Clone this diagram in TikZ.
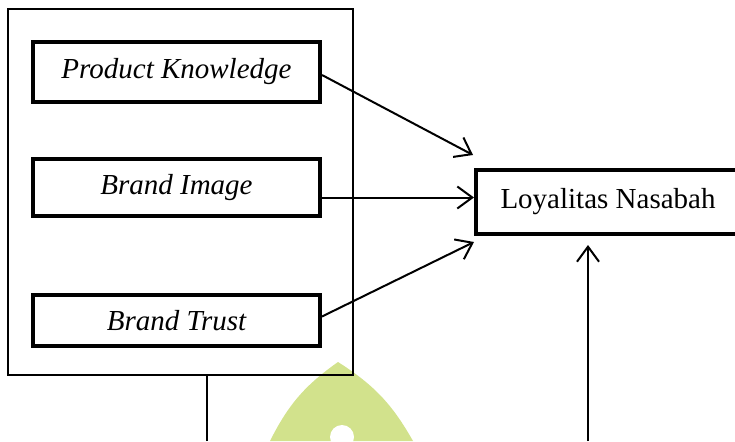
\documentclass[tikz,border=0pt]{standalone}
\usepackage{fontspec}
\setmainfont{Liberation Serif}
\usetikzlibrary{arrows.meta,calc}
\definecolor{wmgreen}{RGB}{210,226,140}
\begin{document}
\begin{tikzpicture}[x=1pt,y=-1pt,
  varbox/.style={draw,line width=4pt,minimum width=287pt,inner sep=0pt,font=\fontsize{29}{32}\selectfont\itshape},
  outbox/.style={draw,line width=4pt,inner sep=0pt,font=\fontsize{29}{32}\selectfont},
  frame/.style={draw,line width=1.2pt,inner sep=0pt},
  conn/.style={line width=2pt,-{Straight Barb[length=15pt,width=22pt,line width=2pt]}},
  plain/.style={line width=1.2pt}]
\useasboundingbox (0,0) rectangle (735,441);
% watermark
\fill[wmgreen] (270,441) to[bend left=14] (338,362) to[bend left=14] (413,441) -- cycle;
\fill[white] (342,437) circle (12);
% outer frame
\node[frame,minimum width=345pt,minimum height=366pt] (outer) at (180.5,192) {};
% variable boxes
\node[varbox,minimum height=60pt] (pk) at (176.5,72) {Product Knowledge};
\node[varbox,minimum height=57pt] (bi) at (176.5,187.5) {Brand Image};
\node[varbox,minimum height=51pt] (bt) at (176.5,320.5) {Brand Trust};
\node[outbox,minimum width=264pt,minimum height=64pt] (ln) at (608,202) {Loyalitas Nasabah};
% free ends
\coordinate (bl) at (207,441);
\coordinate (br) at (588,441);
% connectors
\draw[conn] ([yshift=-3pt]pk.east) -- ([yshift=13pt,xshift=-1pt]ln.north west);
\draw[conn] ([yshift=-10pt]bi.east) -- ([yshift=-10pt]bi.east -| ln.west);
\draw[conn] ([yshift=4pt]bt.east) -- ([yshift=-6pt]ln.south west);
\draw[conn] (br) -- ([yshift=-9pt]br |- ln.south);
\draw[plain] (bl) -- (bl |- outer.south);
\end{tikzpicture}
\end{document}
